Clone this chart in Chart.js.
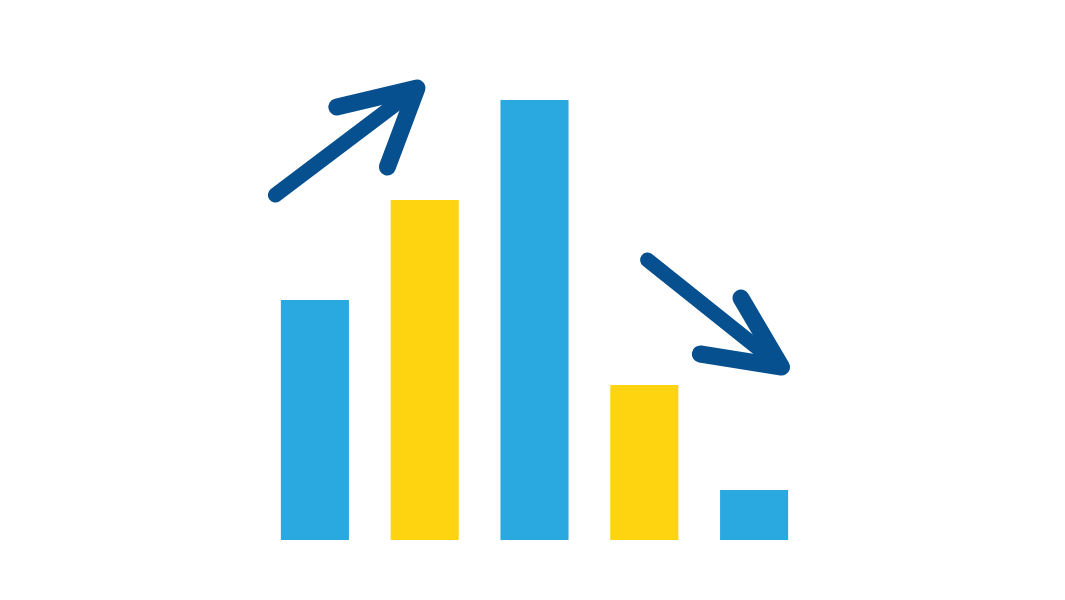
<!DOCTYPE html>
<html>
<head>
<meta charset="utf-8">
<script src="https://cdn.jsdelivr.net/npm/chart.js@4/dist/chart.umd.min.js"></script>
<style>
  html, body { margin: 0; padding: 0; background: #fff; }
  #wrap { width: 1065px; height: 600px; }
</style>
</head>
<body>
<div id="wrap"><canvas id="barChart" width="1065" height="600"></canvas></div>
<script>
// categories and values
const categories = ['A', 'B', 'C', 'D', 'E'];
const values = [48, 68, 88, 31, 10];
const barColors = ['#29a9e0', '#fdd40f', '#29a9e0', '#fdd40f', '#29a9e0'];

// arrow annotations in data units: [categoryIndex, value]
const upArrow = { tail: [-0.36, 69], tip: [0.93, 90.4], wings: [[0.2, 86.6], [0.66, 74.6]] };
const downArrow = { tail: [3.03, 56], tip: [4.25, 34.6], wings: [[3.88, 48.4], [3.51, 37.2]] };

const arrowColor = '#06508f';

// draws the hand-style arrows through the chart scales
const arrowPlugin = {
    id: 'arrows',
    afterDatasetsDraw(chart) {
        const ctx = chart.ctx;
        const x = chart.scales.x, y = chart.scales.y;
        const pt = (p) => [x.getPixelForValue(p[0]), y.getPixelForValue(p[1])];
        ctx.save();
        ctx.strokeStyle = arrowColor;
        ctx.lineCap = 'round';
        ctx.lineJoin = 'round';
        [upArrow, downArrow].forEach(a => {
            const t = pt(a.tail), h = pt(a.tip), w1 = pt(a.wings[0]), w2 = pt(a.wings[1]);
            ctx.lineWidth = 15;
            ctx.beginPath();
            ctx.moveTo(t[0], t[1]);
            ctx.lineTo(h[0], h[1]);
            ctx.stroke();
            ctx.lineWidth = 17;
            ctx.beginPath();
            ctx.moveTo(w1[0], w1[1]);
            ctx.lineTo(h[0], h[1]);
            ctx.lineTo(w2[0], w2[1]);
            ctx.stroke();
        });
        ctx.restore();
    }
};

new Chart(document.getElementById('barChart').getContext('2d'), {
    type: 'bar',
    data: {
        labels: categories,
        datasets: [{
            data: values,
            backgroundColor: barColors,
            borderWidth: 0,
            categoryPercentage: 1,
            barPercentage: 0.62
        }]
    },
    options: {
        responsive: false,
        animation: false,
        devicePixelRatio: 1,
        layout: { padding: { left: 260, right: 256, top: 40, bottom: 60 } },
        plugins: { legend: { display: false }, tooltip: { enabled: false } },
        scales: {
            x: { display: false },
            y: { display: false, min: 0, max: 100 }
        }
    },
    plugins: [arrowPlugin]
});
</script>
</body>
</html>
